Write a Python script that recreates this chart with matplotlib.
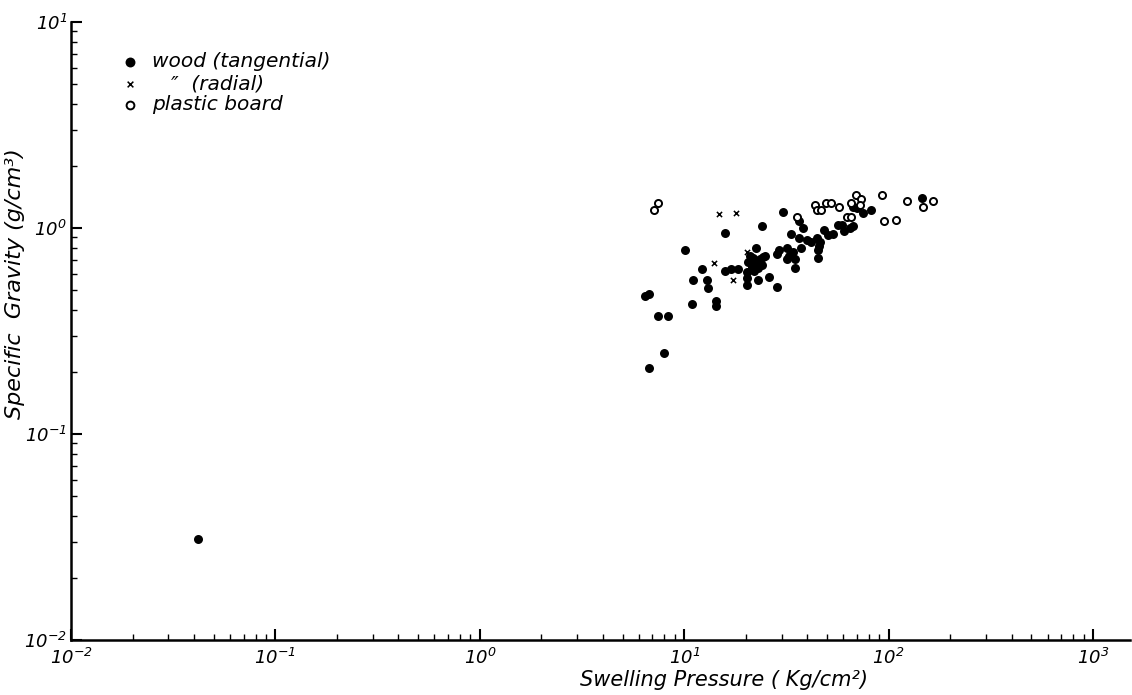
import matplotlib
matplotlib.use("Agg")
import matplotlib.pyplot as plt
from matplotlib.ticker import FixedLocator, LogLocator, NullFormatter
from matplotlib.legend import Legend

plt.rcParams['font.family'] = ['DejaVu Sans']
plt.rcParams['mathtext.fontset'] = 'custom'
plt.rcParams['mathtext.rm'] = 'DejaVu Sans:italic'
plt.rcParams['mathtext.it'] = 'DejaVu Sans:italic'
plt.rcParams['mathtext.default'] = 'rm'

# wood (tangential) - filled circles
tan_x = [0.0418, 6.43, 6.73, 6.73, 7.96, 7.44, 8.33, 10.1, 10.9, 11.1, 12.2, 12.9, 13.1,
         14.3, 14.3, 15.8, 15.8, 16.9, 18.3, 20.3, 20.3, 23.0, 26.0, 28.5, 21.0, 20.5,
         21.7, 22.4, 22.7, 23.5, 24.4, 24.8, 23.0, 21.5, 24.0, 20.3, 22.0, 24.0, 28.5,
         29.1, 30.4, 31.8, 32.6, 31.8, 33.3, 34.1, 34.8, 34.8, 37.3, 36.5, 38.1, 36.5,
         39.9, 41.7, 44.7, 46.2, 45.7, 45.2, 45.2, 48.3, 50.6, 53.5, 56.5, 59.2, 60.5,
         64.7, 67.0, 67.0, 70.0, 75.0, 82.0, 146]
tan_y = [0.031, 0.47, 0.48, 0.21, 0.247, 0.376, 0.376, 0.786, 0.43, 0.56, 0.63, 0.56, 0.51,
         0.44, 0.42, 0.95, 0.62, 0.63, 0.63, 0.57, 0.53, 0.56, 0.58, 0.52, 0.735, 0.685,
         0.715, 0.80, 0.675, 0.705, 0.725, 0.735, 0.64, 0.65, 0.66, 0.61, 0.62, 1.02, 0.745,
         0.785, 1.19, 0.80, 0.735, 0.705, 0.94, 0.765, 0.705, 0.64, 0.80, 1.08, 1.00, 0.89,
         0.87, 0.86, 0.89, 0.86, 0.82, 0.785, 0.715, 0.98, 0.93, 0.94, 1.03, 1.04, 0.97,
         1.00, 1.02, 1.27, 1.25, 1.18, 1.22, 1.40]

# wood (radial) - crosses
rad_x = [14.8, 17.9, 20.3, 14.0, 17.3]
rad_y = [1.17, 1.18, 0.765, 0.675, 0.56]

# plastic board - open circles
pla_x = [7.11, 7.44, 35.6, 43.6, 44.7, 46.7, 49.4, 52.3, 57.2, 62.6, 65.5, 65.5, 69.2,
         73.3, 72.5, 92.9, 95.0, 109, 123, 147, 165]
pla_y = [1.23, 1.32, 1.13, 1.29, 1.22, 1.23, 1.33, 1.33, 1.27, 1.13, 1.13, 1.33, 1.45,
         1.38, 1.29, 1.44, 1.08, 1.09, 1.36, 1.27, 1.36]

x_ticks = [1e-2, 1e-1, 1e0, 1e1, 1e2, 1e3]
x_labels = [r'$10^{-2}$', r'$10^{-1}$', r'$10^{0}$', r'$10^{1}$', r'$10^{2}$', r'$10^{3}$']
y_ticks = [1e-2, 1e-1, 1e0, 1e1]
y_labels = [r'$10^{-2}$', r'$10^{-1}$', r'$10^{0}$', r'$10^{1}$']

fig = plt.figure(figsize=(11.32, 6.95), dpi=100)
ax = fig.add_axes([0.0627, 0.0791, 0.9353, 0.8892])

h1 = ax.scatter(tan_x, tan_y, s=42, c='black', marker='o', linewidths=0,
                label='wood (tangential)')
h2 = ax.scatter(rad_x, rad_y, s=14, c='black', marker='x', linewidths=1.1,
                label='   ″  (radial)')
h3 = ax.scatter(pla_x, pla_y, s=26, facecolors='white', edgecolors='black',
                marker='o', linewidths=1.4, label='plastic board')

ax.set_xscale('log')
ax.set_yscale('log')
ax.set_xlim(1e-2, 1514)
ax.set_ylim(1e-2, 1e1)

ax.xaxis.set_major_locator(FixedLocator(x_ticks))
ax.set_xticklabels(x_labels, fontsize=13)
ax.yaxis.set_major_locator(FixedLocator(y_ticks))
ax.set_yticklabels(y_labels, fontsize=13)
ax.xaxis.set_minor_locator(LogLocator(base=10, subs=range(2, 10), numticks=20))
ax.yaxis.set_minor_locator(LogLocator(base=10, subs=range(2, 10), numticks=20))
ax.xaxis.set_minor_formatter(NullFormatter())
ax.yaxis.set_minor_formatter(NullFormatter())

ax.tick_params(which='major', direction='in', length=8, width=1.5)
ax.tick_params(axis='x', which='major', pad=6)
ax.tick_params(axis='y', which='major', pad=3)
ax.tick_params(which='minor', direction='in', length=4, width=1.0)

for s in ['top', 'right']:
    ax.spines[s].set_visible(False)
for s in ['left', 'bottom']:
    ax.spines[s].set_linewidth(1.8)

ax.set_xlabel('Swelling Pressure ( Kg/cm²)', fontsize=15, style='italic')
ax.xaxis.set_label_coords(0.617, -0.048)
ax.set_ylabel('Specific  Gravity (g/cm³)', fontsize=16, style='italic')
ax.yaxis.set_label_coords(-0.0434, 0.576)

# legend: one row per entry, placed like the original hand lettering
leg_rows = [(h1, 'wood (tangential)', 0.936),
            (h2, '   ″  (radial)', 0.900),
            (h3, 'plastic board', 0.866)]
for h, lab, yy in leg_rows:
    lg = Legend(ax, [h], [lab], loc='center left', bbox_to_anchor=(0.0482, yy),
                frameon=False, borderpad=0.0, borderaxespad=0.0,
                handlelength=0.8, handletextpad=0.7, markerscale=1.1,
                prop={'style': 'italic', 'size': 14.5})
    ax.add_artist(lg)

fig.savefig('out.png', dpi=100)
